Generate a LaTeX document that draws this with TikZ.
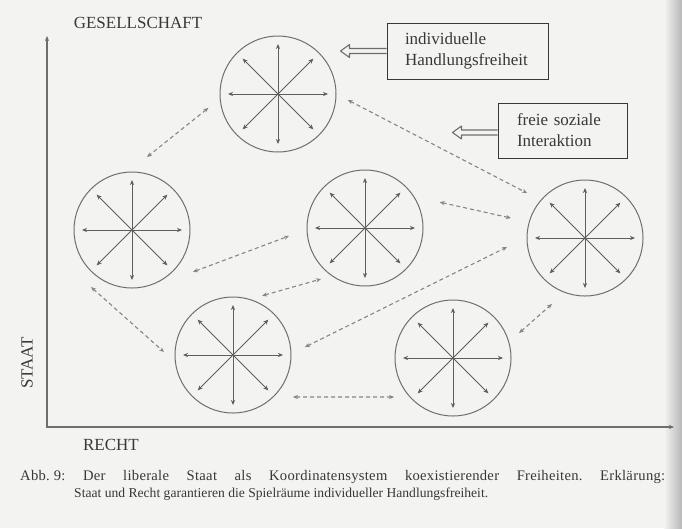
\documentclass[tikz,border=0pt]{standalone}
\usepackage{fontspec}
\setmainfont{Liberation Serif}
\usetikzlibrary{arrows.meta,calc}
\definecolor{paper}{HTML}{F3F3F1}
\definecolor{ink}{HTML}{383838}
\definecolor{rim}{HTML}{6E6E6E}
\definecolor{spokeg}{HTML}{5E5E5E}
\definecolor{dashg}{HTML}{858585}
\frenchspacing
\tikzset{
  smalltip/.tip={Stealth[length=5pt,width=4.2pt]},
  freedom/.style={circle, draw=rim, line width=1pt, minimum size=116pt, inner sep=0pt,
    path picture={
      \foreach \a in {0,45,...,315}
        \draw[spokeg, line width=0.9pt, -smalltip]
          (path picture bounding box.center) -- ++(\a:50pt);
    }},
  link/.style={dashg, line width=1.1pt, dash pattern=on 4pt off 3pt, smalltip-smalltip},
  axisline/.style={rim, line width=1.2pt, smalltip-smalltip},
  label/.style={ink, font=\fontsize{17}{20}\selectfont, inner sep=0pt},
  notebox/.style={draw=rim, line width=1pt, ink, font=\fontsize{17}{21}\selectfont,
    align=left, inner ysep=0pt},
  hollow/.style={rim, line width=1.1pt, line join=round},
  caption/.style={ink, font=\fontsize{13.6}{17}\selectfont, inner sep=0pt}
}
\begin{document}
\begin{tikzpicture}[x=1pt,y=-1pt]
  % paper and the darker page edge on the right
  \fill[paper] (0,0) rectangle (682,528);
  \shade[left color=paper, right color=black!28] (664,0) rectangle (682,528);
  \useasboundingbox (0,0) rectangle (682,528);

  % coordinate axes
  \coordinate (ytop) at (47,36);
  \coordinate (origin) at (47,427);
  \coordinate (xend) at (674,427);
  \draw[axisline] (ytop) -- (origin) -- (xend);

  \node[label] (gesellschaft) at (138,23) {GESELLSCHAFT};
  \node[label, rotate=90] (staat) at (27,363) {STAAT};
  \node[label] (recht) at (111,445) {RECHT};

  % spheres of freedom
  \node[freedom] (top) at (278,94) {};
  \node[freedom] (left) at (132,230) {};
  \node[freedom] (mid) at (365,228) {};
  \node[freedom] (right) at (585,238) {};
  \node[freedom] (botl) at (233,355) {};
  \node[freedom] (botr) at (453,358) {};

  % free social interaction between the spheres
  \draw[link] ([shift={(191.3:71pt)}]top.center) -- ([shift={(78.4:74.5pt)}]left.center);
  \draw[link] ([shift={(-4.9:70pt)}]top.center) -- ([shift={(142.2:73.4pt)}]right.center);
  \draw[link] ([shift={(19.1:79pt)}]mid.center) -- ([shift={(164.9:76.7pt)}]right.center);
  \draw[link] ([shift={(-34.5:74pt)}]left.center) -- ([shift={(186:76.4pt)}]mid.center);
  \draw[link] ([shift={(63.8:66pt)}]botl.center) -- ([shift={(229.2:67.4pt)}]mid.center);
  \draw[link] ([shift={(6.3:72.4pt)}]botl.center) -- ([shift={(186.6:78.5pt)}]right.center);
  \draw[link] ([shift={(234.3:70.2pt)}]left.center) -- ([shift={(177.5:69.1pt)}]botl.center);
  \draw[link] ([shift={(-35:73.2pt)}]botl.center) -- ([shift={(213.5:70.7pt)}]botr.center);
  \draw[link] ([shift={(20.7:70.6pt)}]botr.center) -- ([shift={(243.4:73.8pt)}]right.center);

  % legend boxes
  \node[notebox, minimum width=161pt, minimum height=56pt, text width=125pt, inner xsep=18pt]
    (box1) at (467.5,51) {individuelle\\Handlungsfreiheit};
  \node[notebox, minimum width=129pt, minimum height=55pt, text width=91pt, inner xsep=19pt]
    (box2) at (562.5,130.5) {freie soziale\\Interaktion};

  % hollow pointers from the boxes
  \draw[hollow] (box1.west) ++(0,-2.5) -- ++(-37,0) -- ++(0,-4) -- ++(-9,6.5)
    -- ++(9,6.5) -- ++(0,-4) -- ++(37,0);
  \draw[hollow] ([yshift=-2pt]box2.west) ++(0,-2.5) -- ++(-36,0) -- ++(0,-4) -- ++(-9,6.5)
    -- ++(9,6.5) -- ++(0,-4) -- ++(36,0);

  % caption, first line set to the full measure
  \node[caption, anchor=base west] (cap1) at (20,480)
    {\fontsize{14.6}{17}\selectfont\addfontfeatures{LetterSpace=2}%
     \makebox[645pt][s]{\mbox{Abb. 9:} Der liberale Staat als Koordinatensystem koexistierender Freiheiten. Erklärung:}};
  \node[caption, anchor=base west] (cap2) at (74,497)
    {Staat und Recht garantieren die Spielräume individueller Handlungsfreiheit.};
\end{tikzpicture}
\end{document}
